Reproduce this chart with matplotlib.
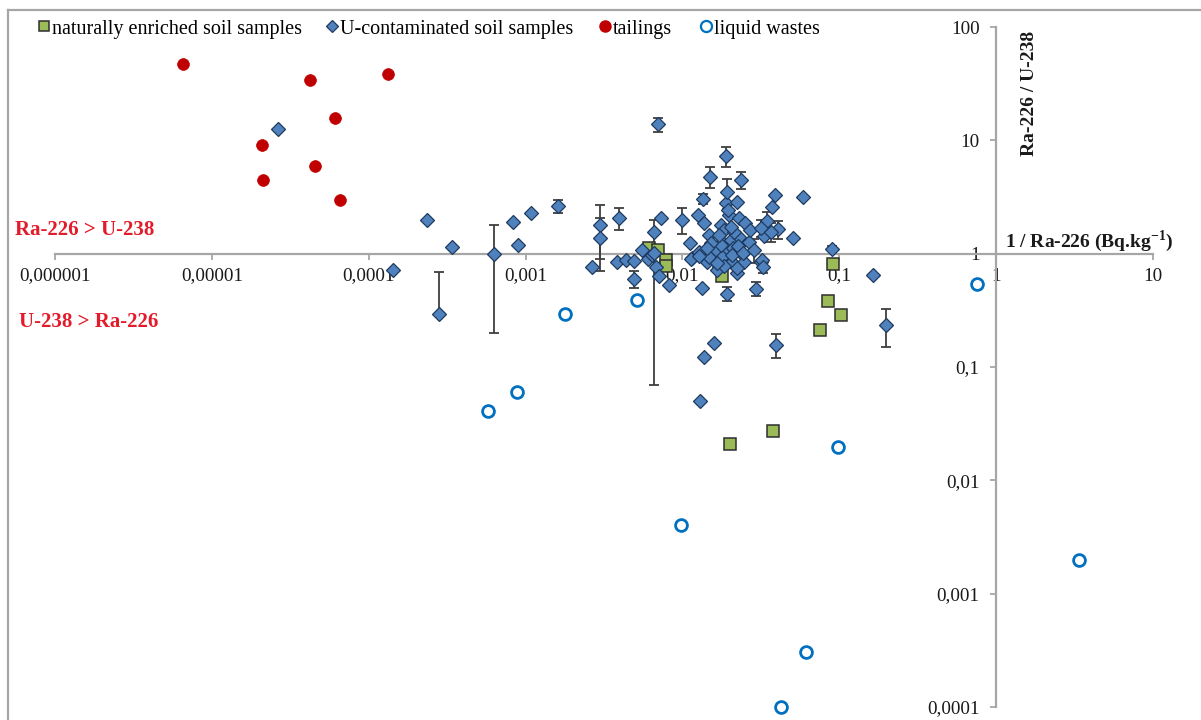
import matplotlib
matplotlib.use("Agg")
import matplotlib.pyplot as plt
from matplotlib.lines import Line2D

plt.rcParams['font.family'] = ['Liberation Serif', 'DejaVu Serif']
plt.rcParams['mathtext.fontset'] = 'custom'
plt.rcParams['mathtext.rm'] = 'Liberation Serif'
plt.rcParams['mathtext.bf'] = 'Liberation Serif:bold'

# ---- data: x = 1 / Ra-226 (Bq/kg), y = Ra-226 / U-238 ----
natural_x = [6.1e-3, 7.0e-3, 7.9e-3, 7.9e-3, 0.0171, 0.0179, 0.091, 0.085, 0.103, 0.075, 0.038, 0.020]
natural_y = [1.12, 1.08, 0.88, 0.78, 0.79, 0.63, 0.81, 0.38, 0.287, 0.212, 0.027, 0.021]

# U-contaminated soils without error bars
ucont_x = [2.63e-5, 1.42e-4, 2.34e-4, 3.38e-4, 8.26e-4, 8.9e-4, 1.09e-3, 2.64e-3,
           3.8e-3, 4.34e-3, 4.88e-3, 5.49e-3, 6.0e-3, 6.63e-3, 7.35e-3, 6.83e-3,
           7.13e-3, 8.26e-3, 6.44e-3, 0.01125, 0.01158, 0.01265, 0.01283, 0.01341,
           0.01381, 0.01443, 0.01486, 0.0160, 0.01672, 0.01773, 0.01799, 0.01852,
           0.01908, 0.02242, 0.03916, 0.0591, 0.03748, 0.01993, 0.02308, 0.02521,
           0.03333, 0.0510, 0.01852, 0.02053, 0.02308, 0.01647, 0.01908, 0.02114,
           0.02413, 0.01486, 0.01799, 0.02084, 0.03189, 0.03236, 0.01852, 0.02084,
           0.0160, 0.01381, 0.01302, 0.165, 0.01672, 0.01141, 0.0175, 0.02145,
           0.02674, 0.02486, 0.0153, 0.0205, 0.0226, 0.0172, 0.0268, 0.0143,
           0.0196, 0.0245, 0.0128, 0.0222]
ucont_y = [12.7, 0.72, 2.0, 1.15, 1.92, 1.20, 2.30, 0.77,
           0.85, 0.885, 0.87, 1.085, 0.90, 1.56, 2.08, 0.77,
           0.63, 0.533, 0.98, 1.25, 0.92, 2.21, 1.04, 0.50,
           1.88, 0.85, 1.47, 1.085, 0.72, 1.80, 1.28, 1.04,
           2.82, 2.88, 3.32, 3.19, 2.60, 2.21, 2.08, 1.88,
           1.44, 1.38, 1.63, 1.33, 1.41, 1.085, 1.11, 1.13,
           1.0, 0.94, 0.94, 0.85, 0.85, 0.885, 0.78, 0.98,
           0.164, 0.123, 0.0504, 0.653, 0.82, 0.90, 1.2, 1.56,
           1.28, 0.85, 1.25, 1.72, 1.18, 1.45, 1.62, 1.12,
           2.45, 1.02, 0.95, 0.68]

# U-contaminated soils with measurement uncertainty
ucont_eb_x = [2.8e-4, 6.25e-4, 1.6e-3, 3.0e-3, 3.0e-3, 3.92e-3, 4.88e-3, 6.63e-3,
              0.01, 7.03e-3, 0.01936, 0.01908, 0.01508, 0.02377, 0.01361, 0.01936,
              0.03483, 0.03189, 0.04093, 0.03693, 0.02877, 0.0902, 0.02242, 0.03284,
              0.02963, 0.03975, 0.1993]
ucont_eb_y = [0.295, 1.0, 2.65, 1.8, 1.38, 2.08, 0.60, 1.02,
              2.0, 13.8, 0.444, 7.33, 4.78, 4.50, 3.06, 3.53,
              1.96, 1.70, 1.66, 1.56, 1.085, 1.11, 0.75, 0.77,
              0.49, 0.157, 0.236]
ucont_eb_lo = [0.0, 0.8, 0.35, 0.9, 0.67, 0.46, 0.1, 0.95,
               0.52, 1.85, 0.063, 1.47, 1.0, 0.77, 0.31, 1.06,
               0.35, 0.3, 0.3, 0.3, 0.25, 0.05, 0.1, 0.1,
               0.07, 0.038, 0.086]
ucont_eb_hi = [0.40, 0.8, 0.35, 0.9, 0.67, 0.46, 0.1, 0.95,
               0.52, 1.85, 0.063, 1.47, 1.0, 0.77, 0.31, 1.06,
               0.35, 0.3, 0.3, 0.3, 0.25, 0.05, 0.1, 0.1,
               0.07, 0.038, 0.086]

tailings_x = [6.5e-6, 4.2e-5, 1.33e-4, 6.1e-5, 2.09e-5, 4.55e-5, 2.12e-5, 6.6e-5]
tailings_y = [47, 34, 38.5, 15.7, 9.1, 5.9, 4.47, 2.97]

liquid_x = [5.75e-4, 8.8e-4, 1.78e-3, 5.1e-3, 9.8e-3, 0.098, 0.0614, 0.0425, 0.755, 3.37]
liquid_y = [0.041, 0.060, 0.293, 0.389, 0.00403, 0.0196, 3.05e-4, 1.0e-4, 0.54, 0.00198]

x_ticks = [1e-6, 1e-5, 1e-4, 1e-3, 1e-2, 1e-1, 1, 10]
x_tick_labels = ['0,000001', '0,00001', '0,0001', '0,001', '0,01', '0,1', '1', '10']
y_ticks = [1e-4, 1e-3, 1e-2, 1e-1, 1, 10, 100]
y_tick_labels = ['0,0001', '0,001', '0,01', '0,1', '1', '10', '100']

series_names = ['naturally enriched soil samples', 'U-contaminated soil samples',
                'tailings', 'liquid wastes']

# ---- styling ----
GREEN = '#9BBB59'
BLUE = '#4F81BD'
RED = '#C00000'
CYAN = '#0070C0'
AXIS_GREY = '#A6A6A6'

W, H = 1201, 720
fig = plt.figure(figsize=(W / 100, H / 100), dpi=100)
ax = fig.add_axes([55 / W, 13 / H, 1098 / W, 680 / H])
ax.set_xscale('log')
ax.set_yscale('log')
ax.set_xlim(1e-6, 10)
ax.set_ylim(1e-4, 100)

# axes cross at (1, 1)
for s in ('top', 'right'):
    ax.spines[s].set_visible(False)
ax.spines['left'].set_position(('data', 1))
ax.spines['bottom'].set_position(('data', 1))
for s in ('left', 'bottom'):
    ax.spines[s].set_color(AXIS_GREY)
    ax.spines[s].set_linewidth(1.6)
    ax.spines[s].set_zorder(2)

ax.set_xticks(x_ticks)
ax.set_xticklabels(x_tick_labels)
ax.set_yticks(y_ticks)
ax.set_yticklabels(y_tick_labels)
ax.minorticks_off()
ax.tick_params(axis='both', which='major', direction='out', length=4,
               width=1.3, color=AXIS_GREY, labelsize=13.8, labelcolor='#1a1a1a')
ax.tick_params(axis='x', pad=6)
ax.tick_params(axis='y', pad=8)

# error bars of the contaminated soil series
ax.errorbar(ucont_eb_x, ucont_eb_y, yerr=[ucont_eb_lo, ucont_eb_hi], fmt='none',
            ecolor='#3F3F3F', elinewidth=1.3, capsize=3.3, capthick=1.3, zorder=3)

ax.plot(natural_x, natural_y, ls='none', marker='s', ms=8, mfc=GREEN,
        mec='#2E2E2E', mew=1.1, zorder=4, clip_on=False)
ax.plot(ucont_x + ucont_eb_x, ucont_y + ucont_eb_y, ls='none', marker='D', ms=7,
        mfc=BLUE, mec='#1F3A5F', mew=0.9, zorder=5, clip_on=False)
ax.plot(tailings_x, tailings_y, ls='none', marker='o', ms=8.5, mfc=RED,
        mec=RED, mew=0.5, zorder=6, clip_on=False)
ax.plot(liquid_x, liquid_y, ls='none', marker='o', ms=8.5, mfc='white',
        mec=CYAN, mew=2.0, zorder=6, clip_on=False)

# legend entries spread across the top
handles = [
    Line2D([], [], ls='none', marker='s', ms=6.5, mfc=GREEN, mec='#2E2E2E', mew=1.1),
    Line2D([], [], ls='none', marker='D', ms=6.5, mfc=BLUE, mec='#1F3A5F', mew=0.9),
    Line2D([], [], ls='none', marker='o', ms=8, mfc=RED, mec=RED),
    Line2D([], [], ls='none', marker='o', ms=8, mfc='white', mec=CYAN, mew=1.6),
]
legend_x = [38, 326, 599, 700]
for h, name, lx in zip(handles, series_names, legend_x):
    fig.legend([h], [name], loc='center left', bbox_to_anchor=(lx / W, 1 - 29 / H),
               frameon=False, fontsize=14.5, handlelength=0.6, handletextpad=0.1,
               borderaxespad=0, borderpad=0)

# axis titles
fig.text(1030 / W, 1 - 93 / H, 'Ra-226 / U-238', rotation=90, ha='center', va='center',
         fontsize=14, fontweight='bold', color='#1a1a1a')
fig.text(1005 / W, 1 - 241 / H, '1 / Ra-226 (Bq.kg$^{\\mathbf{-1}}$)', ha='left', va='center',
         fontsize=14, fontweight='bold', color='#1a1a1a')

# region labels
fig.text(15 / W, 1 - 230 / H, 'Ra-226 > U-238', ha='left', va='center',
         fontsize=15, fontweight='bold', color='#E31B2B')
fig.text(19 / W, 1 - 322 / H, 'U-238 > Ra-226', ha='left', va='center',
         fontsize=15, fontweight='bold', color='#E31B2B')

# chart frame
fig.add_artist(Line2D([8 / W, 1], [1 - 10 / H, 1 - 10 / H], transform=fig.transFigure,
                      color=AXIS_GREY, lw=1.6))
fig.add_artist(Line2D([8 / W, 8 / W], [0, 1 - 10 / H], transform=fig.transFigure,
                      color=AXIS_GREY, lw=1.6))

fig.savefig('out.png', dpi=100)
